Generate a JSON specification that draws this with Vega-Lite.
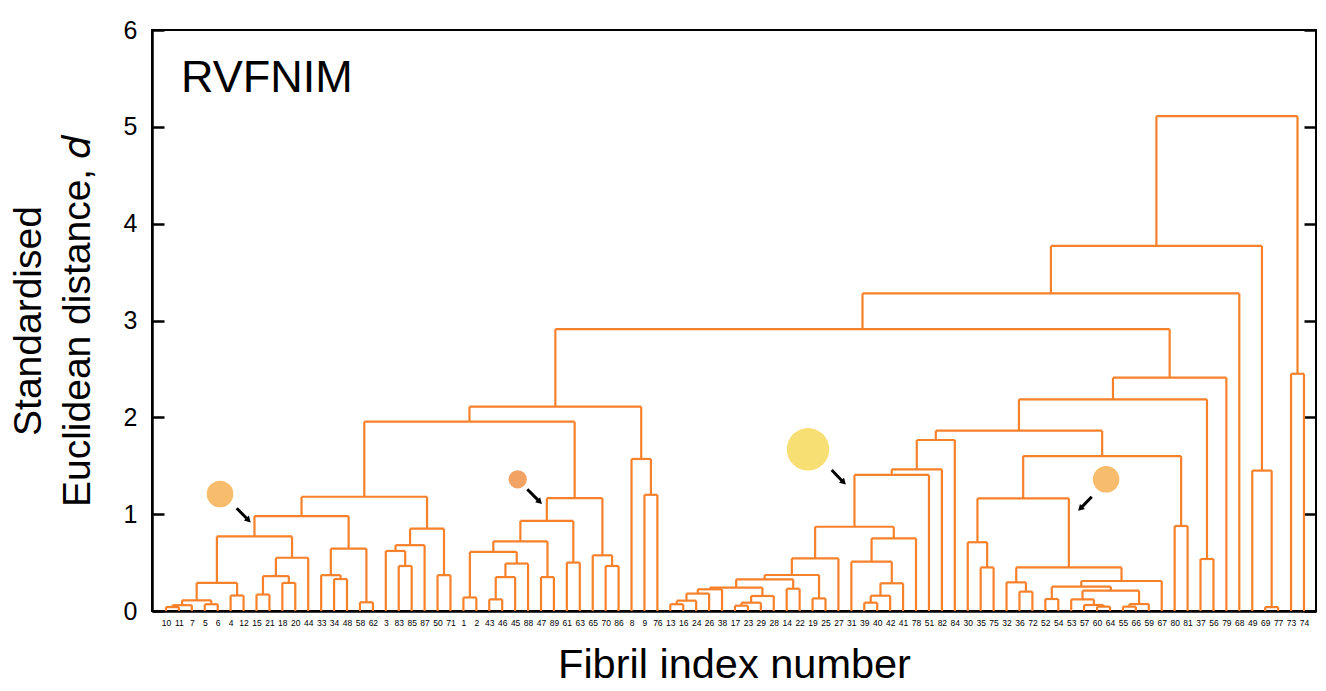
{
  "$schema": "https://vega.github.io/schema/vega-lite/v6.json",
  "width": 1164,
  "height": 581,
  "autosize": {"type": "none"},
  "padding": {"left": 152, "top": 30, "right": 10, "bottom": 80},
  "background": "white",
  "config": {
    "view": {"stroke": "black", "strokeWidth": 2},
    "font": "Liberation Sans",
    "axisX": {"labelOverlap": false, "labelFlush": false, "labelBound": false, "labelSeparation": 0}
  },
  "datasets": {
    "merges": [
      {"xl":0,"yl":0,"xr":1,"yr":0,"h":0.04},
      {"xl":0.5,"yl":0.04,"xr":2,"yr":0,"h":0.06},
      {"xl":3,"yl":0,"xr":4,"yr":0,"h":0.07},
      {"xl":1.25,"yl":0.06,"xr":3.5,"yr":0.07,"h":0.11},
      {"xl":5,"yl":0,"xr":6,"yr":0,"h":0.16},
      {"xl":2.375,"yl":0.11,"xr":5.5,"yr":0.16,"h":0.29},
      {"xl":7,"yl":0,"xr":8,"yr":0,"h":0.17},
      {"xl":9,"yl":0,"xr":10,"yr":0,"h":0.29},
      {"xl":7.5,"yl":0.17,"xr":9.5,"yr":0.29,"h":0.36},
      {"xl":8.5,"yl":0.36,"xr":11,"yr":0,"h":0.55},
      {"xl":3.9375,"yl":0.29,"xr":9.75,"yr":0.55,"h":0.77},
      {"xl":13,"yl":0,"xr":14,"yr":0,"h":0.33},
      {"xl":12,"yl":0,"xr":13.5,"yr":0.33,"h":0.37},
      {"xl":15,"yl":0,"xr":16,"yr":0,"h":0.09},
      {"xl":12.75,"yl":0.37,"xr":15.5,"yr":0.09,"h":0.645},
      {"xl":6.844,"yl":0.77,"xr":14.125,"yr":0.645,"h":0.98},
      {"xl":18,"yl":0,"xr":19,"yr":0,"h":0.465},
      {"xl":17,"yl":0,"xr":18.5,"yr":0.465,"h":0.62},
      {"xl":17.75,"yl":0.62,"xr":20,"yr":0,"h":0.68},
      {"xl":21,"yl":0,"xr":22,"yr":0,"h":0.37},
      {"xl":18.875,"yl":0.68,"xr":21.5,"yr":0.37,"h":0.85},
      {"xl":10.484,"yl":0.98,"xr":20.188,"yr":0.85,"h":1.18},
      {"xl":23,"yl":0,"xr":24,"yr":0,"h":0.14},
      {"xl":25,"yl":0,"xr":26,"yr":0,"h":0.12},
      {"xl":25.5,"yl":0.12,"xr":27,"yr":0,"h":0.35},
      {"xl":26.25,"yl":0.35,"xr":28,"yr":0,"h":0.49},
      {"xl":23.5,"yl":0.14,"xr":27.125,"yr":0.49,"h":0.61},
      {"xl":29,"yl":0,"xr":30,"yr":0,"h":0.35},
      {"xl":25.313,"yl":0.61,"xr":29.5,"yr":0.35,"h":0.72},
      {"xl":31,"yl":0,"xr":32,"yr":0,"h":0.5},
      {"xl":27.406,"yl":0.72,"xr":31.5,"yr":0.5,"h":0.93},
      {"xl":34,"yl":0,"xr":35,"yr":0,"h":0.465},
      {"xl":33,"yl":0,"xr":34.5,"yr":0.465,"h":0.575},
      {"xl":29.453,"yl":0.93,"xr":33.75,"yr":0.575,"h":1.165},
      {"xl":15.336,"yl":1.18,"xr":31.602,"yr":1.165,"h":1.955},
      {"xl":37,"yl":0,"xr":38,"yr":0,"h":1.2},
      {"xl":36,"yl":0,"xr":37.5,"yr":1.2,"h":1.57},
      {"xl":23.469,"yl":1.955,"xr":36.75,"yr":1.57,"h":2.11},
      {"xl":39,"yl":0,"xr":40,"yr":0,"h":0.07},
      {"xl":39.5,"yl":0.07,"xr":41,"yr":0,"h":0.107},
      {"xl":40.25,"yl":0.107,"xr":42,"yr":0,"h":0.18},
      {"xl":41.125,"yl":0.18,"xr":43,"yr":0,"h":0.224},
      {"xl":44,"yl":0,"xr":45,"yr":0,"h":0.055},
      {"xl":44.5,"yl":0.055,"xr":46,"yr":0,"h":0.086},
      {"xl":45.25,"yl":0.086,"xr":47,"yr":0,"h":0.155},
      {"xl":42.063,"yl":0.224,"xr":46.125,"yr":0.155,"h":0.241},
      {"xl":48,"yl":0,"xr":49,"yr":0,"h":0.23},
      {"xl":44.094,"yl":0.241,"xr":48.5,"yr":0.23,"h":0.327},
      {"xl":50,"yl":0,"xr":51,"yr":0,"h":0.13},
      {"xl":46.297,"yl":0.327,"xr":50.5,"yr":0.13,"h":0.372},
      {"xl":48.398,"yl":0.372,"xr":52,"yr":0,"h":0.544},
      {"xl":54,"yl":0,"xr":55,"yr":0,"h":0.086},
      {"xl":54.5,"yl":0.086,"xr":56,"yr":0,"h":0.158},
      {"xl":55.25,"yl":0.158,"xr":57,"yr":0,"h":0.286},
      {"xl":53,"yl":0,"xr":56.125,"yr":0.286,"h":0.509},
      {"xl":54.563,"yl":0.509,"xr":58,"yr":0,"h":0.75},
      {"xl":50.199,"yl":0.544,"xr":56.281,"yr":0.75,"h":0.87},
      {"xl":53.24,"yl":0.87,"xr":59,"yr":0,"h":1.405},
      {"xl":56.12,"yl":1.405,"xr":60,"yr":0,"h":1.463},
      {"xl":58.06,"yl":1.463,"xr":61,"yr":0,"h":1.766},
      {"xl":63,"yl":0,"xr":64,"yr":0,"h":0.45},
      {"xl":62,"yl":0,"xr":63.5,"yr":0.45,"h":0.71},
      {"xl":66,"yl":0,"xr":67,"yr":0,"h":0.2},
      {"xl":65,"yl":0,"xr":66.5,"yr":0.2,"h":0.296},
      {"xl":68,"yl":0,"xr":69,"yr":0,"h":0.124},
      {"xl":72,"yl":0,"xr":73,"yr":0,"h":0.045},
      {"xl":71,"yl":0,"xr":72.5,"yr":0.045,"h":0.062},
      {"xl":70,"yl":0,"xr":71.75,"yr":0.062,"h":0.12},
      {"xl":74,"yl":0,"xr":75,"yr":0,"h":0.045},
      {"xl":74.5,"yl":0.045,"xr":76,"yr":0,"h":0.072},
      {"xl":70.875,"yl":0.12,"xr":75.25,"yr":0.072,"h":0.21},
      {"xl":68.5,"yl":0.124,"xr":73.063,"yr":0.21,"h":0.251},
      {"xl":70.781,"yl":0.251,"xr":77,"yr":0,"h":0.31},
      {"xl":65.75,"yl":0.296,"xr":73.891,"yr":0.31,"h":0.45},
      {"xl":62.75,"yl":0.71,"xr":69.82,"yr":0.45,"h":1.164},
      {"xl":78,"yl":0,"xr":79,"yr":0,"h":0.878},
      {"xl":66.285,"yl":1.164,"xr":78.5,"yr":0.878,"h":1.6},
      {"xl":59.53,"yl":1.766,"xr":72.393,"yr":1.6,"h":1.862},
      {"xl":80,"yl":0,"xr":81,"yr":0,"h":0.537},
      {"xl":65.961,"yl":1.862,"xr":80.5,"yr":0.537,"h":2.186},
      {"xl":73.23,"yl":2.186,"xr":82,"yr":0,"h":2.41},
      {"xl":30.109,"yl":2.11,"xr":77.615,"yr":2.41,"h":2.91},
      {"xl":53.862,"yl":2.91,"xr":83,"yr":0,"h":3.28},
      {"xl":85,"yl":0,"xr":86,"yr":0,"h":0.04},
      {"xl":84,"yl":0,"xr":85.5,"yr":0.04,"h":1.45},
      {"xl":68.431,"yl":3.28,"xr":84.75,"yr":1.45,"h":3.77},
      {"xl":87,"yl":0,"xr":88,"yr":0,"h":2.45},
      {"xl":76.59,"yl":3.77,"xr":87.5,"yr":2.45,"h":5.11}
    ],
    "circles": [
      {"x":4.18,"y":1.208,"size":707,"c":"#F7BD6C"},
      {"x":27.2,"y":1.36,"size":333,"c":"#F2A263"},
      {"x":49.65,"y":1.67,"size":1810,"c":"#F7DF74"},
      {"x":72.7,"y":1.36,"size":707,"c":"#F7BD6C"}
    ],
    "arrows": [
      {"x":5.47,"y":1.061,"hx":6.33,"hy":0.945,"ang":135},
      {"x":27.94,"y":1.257,"hx":28.85,"hy":1.135,"ang":135},
      {"x":51.48,"y":1.456,"hx":52.35,"hy":1.335,"ang":135},
      {"x":71.59,"y":1.18,"hx":70.76,"hy":1.065,"ang":225}
    ],
    "labels": [
      {"label":"RVFNIM","x":1.16,"y":5.36}
    ]
  },
  "resolve": {"axis": {"y": "independent"}},
  "layer": [
    {
      "data": {"name": "merges"},
      "mark": {"type": "rule", "color": "#F7802B", "strokeWidth": 2.2},
      "encoding": {
        "x": {
          "field": "xl", "type": "quantitative", "title": "Fibril index number",
          "scale": {"domain": [-1.08, 88.93], "nice": false, "zero": false},
          "axis": {
            "values": [0,1,2,3,4,5,6,7,8,9,10,11,12,13,14,15,16,17,18,19,20,21,22,23,24,25,26,27,28,29,30,31,32,33,34,35,36,37,38,39,40,41,42,43,44,45,46,47,48,49,50,51,52,53,54,55,56,57,58,59,60,61,62,63,64,65,66,67,68,69,70,71,72,73,74,75,76,77,78,79,80,81,82,83,84,85,86,87,88],
            "tickCount": 500,
            "labelExpr": "['10','11','7','5','6','4','12','15','21','18','20','44','33','34','48','58','62','3','83','85','87','50','71','1','2','43','46','45','88','47','89','61','63','65','70','86','8','9','76','13','16','24','26','38','17','23','29','28','14','22','19','25','27','31','39','40','42','41','78','51','82','84','30','35','75','32','36','72','52','54','53','57','60','64','55','66','59','67','80','81','37','56','79','68','49','69','77','73','74'][datum.value]",
            "ticks": false, "grid": false,
            "domain": true, "domainColor": "black", "domainWidth": 2.5,
            "labelFontSize": 8.5, "labelColor": "black", "labelPadding": 7,
            "labelAngle": 0, "labelOverlap": false, "labelBound": false, "labelFlush": false,
            "titleFontSize": 41.5, "titleFontWeight": "normal", "titleColor": "black", "titlePadding": 18
          }
        },
        "x2": {"field": "xr"},
        "y": {
          "field": "h", "type": "quantitative",
          "scale": {"domain": [0, 6], "nice": false},
          "axis": {
            "orient": "left",
            "values": [0,1,2,3,4,5,6],
            "grid": false,
            "domain": true, "domainColor": "black", "domainWidth": 2.5,
            "ticks": true, "tickSize": -12, "tickWidth": 2.5, "tickColor": "black",
            "labelFontSize": 25, "labelColor": "black", "labelPadding": 27, "labelFlush": false,
            "title": ["Standardised", "Euclidean distance, 𝑑"],
            "titleFontSize": 39, "titleFontWeight": "normal", "titleColor": "black",
            "titleLineHeight": 49, "titlePadding": 26
          }
        }
      }
    },
    {
      "data": {"name": "merges"},
      "mark": {"type": "rule", "color": "#F7802B", "strokeWidth": 2.2},
      "encoding": {
        "x": {"field": "xl", "type": "quantitative", "title": "Fibril index number"},
        "y": {
          "field": "yl", "type": "quantitative",
          "axis": {
            "orient": "right", "values": [0,1,2,3,4,5,6], "grid": false,
            "labels": false, "title": null, "domain": false,
            "ticks": true, "tickSize": -12, "tickWidth": 2.5, "tickColor": "black"
          }
        },
        "y2": {"field": "h"}
      }
    },
    {
      "data": {"name": "merges"},
      "mark": {"type": "rule", "color": "#F7802B", "strokeWidth": 2.2},
      "encoding": {
        "x": {"field": "xr", "type": "quantitative", "title": "Fibril index number"},
        "y": {"field": "yr", "type": "quantitative", "axis": null},
        "y2": {"field": "h"}
      }
    },
    {
      "data": {"name": "circles"},
      "mark": {"type": "point", "filled": true, "opacity": 1, "strokeWidth": 0},
      "encoding": {
        "x": {"field": "x", "type": "quantitative", "title": "Fibril index number"},
        "y": {"field": "y", "type": "quantitative", "axis": null},
        "size": {"field": "size", "type": "quantitative", "scale": null, "legend": null},
        "color": {"field": "c", "type": "nominal", "scale": null, "legend": null}
      }
    },
    {
      "data": {"name": "arrows"},
      "mark": {"type": "rule", "color": "black", "strokeWidth": 3},
      "encoding": {
        "x": {"field": "x", "type": "quantitative", "title": "Fibril index number"},
        "y": {"field": "y", "type": "quantitative", "axis": null},
        "x2": {"field": "hx"},
        "y2": {"field": "hy"}
      }
    },
    {
      "data": {"name": "arrows"},
      "mark": {"type": "point", "shape": "triangle", "filled": true, "color": "black", "opacity": 1, "size": 50},
      "encoding": {
        "x": {"field": "hx", "type": "quantitative", "title": "Fibril index number"},
        "y": {"field": "hy", "type": "quantitative", "axis": null},
        "angle": {"field": "ang", "type": "quantitative", "scale": null}
      }
    },
    {
      "data": {"name": "labels"},
      "mark": {"type": "text", "fontSize": 45, "align": "left", "baseline": "alphabetic", "color": "black"},
      "encoding": {
        "x": {"field": "x", "type": "quantitative", "title": "Fibril index number"},
        "y": {"field": "y", "type": "quantitative", "axis": null},
        "text": {"field": "label"}
      }
    }
  ]
}
